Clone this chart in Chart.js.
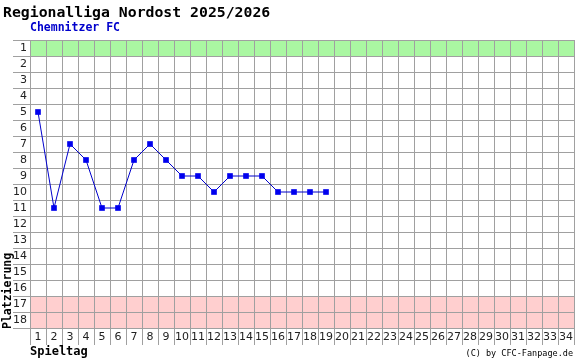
<!DOCTYPE html>
<html><head><meta charset="utf-8">
<script src="https://cdn.jsdelivr.net/npm/chart.js@4/dist/chart.umd.min.js"></script>
<style>html,body{margin:0;padding:0;background:#fff}#wrap{position:relative;width:575px;height:359px}</style>
</head><body><div id="wrap"><canvas id="c" width="575" height="359"></canvas></div>
<script>
const chartTitle = 'Regionalliga Nordost 2025/2026';
const teamName = 'Chemnitzer FC';
const credit = '(C) by CFC-Fanpage.de';
const xTitle = 'Spieltag';
const yTitle = 'Platzierung';
const matchdays = ['1','2','3','4','5','6','7','8','9','10','11','12','13','14','15','16','17','18','19','20','21','22','23','24','25','26','27','28','29','30','31','32','33','34'];
const places = [1,2,3,4,5,6,7,8,9,10,11,12,13,14,15,16,17,18];
const positions = [5,11,7,8,11,11,8,7,8,9,9,10,9,9,9,10,10,10,10];
const promotionPlaces = [1];
const relegationPlaces = [17,18];

const GRID = '#a0a0a0';
const MONO = '"DejaVu Sans Mono", monospace';
const SANS = '"DejaVu Sans", sans-serif';

const bandsPlugin = {
  id: 'bands',
  beforeDraw(chart) {
    const {ctx, chartArea: a, scales: {y}} = chart;
    ctx.save();
    const fillPlace = (p, col) => {
      const y1 = y.getPixelForValue(p - 0.5), y2 = y.getPixelForValue(p + 0.5);
      ctx.fillStyle = col;
      ctx.fillRect(a.left, Math.min(y1, y2), a.right - a.left, Math.abs(y2 - y1));
    };
    promotionPlaces.forEach(p => fillPlace(p, '#aaf7a2'));
    relegationPlaces.forEach(p => fillPlace(p, '#ffcfcf'));
    ctx.restore();
  },
  afterDraw(chart) {
    const {ctx, chartArea: a} = chart;
    ctx.save();
    ctx.textBaseline = 'alphabetic';
    ctx.textAlign = 'left';
    ctx.fillStyle = '#000';
    ctx.font = 'bold 14.8px ' + MONO;
    ctx.fillText(chartTitle, 3, 17);
    ctx.fillStyle = '#0000cc';
    ctx.font = 'bold 11.5px ' + MONO;
    ctx.fillText(teamName, 30, 31);
    ctx.fillStyle = '#000';
    ctx.font = '8.5px ' + MONO;
    ctx.textAlign = 'right';
    ctx.fillText(credit, 573, 356);
    ctx.translate(8, a.bottom + 1);
    ctx.rotate(-Math.PI / 2);
    ctx.textAlign = 'left';
    ctx.textBaseline = 'middle';
    ctx.font = 'bold 11.5px ' + MONO;
    ctx.fillText(yTitle, 0, 0);
    ctx.restore();
  }
};

new Chart(document.getElementById('c'), {
  type: 'line',
  data: {
    labels: matchdays,
    datasets: [{
      data: positions,
      borderColor: '#0000cc',
      backgroundColor: '#0000ee',
      borderWidth: 1,
      pointStyle: 'rect',
      pointRadius: 4,
      pointBorderWidth: 0,
      pointBackgroundColor: '#0000ee',
      tension: 0,
      fill: false
    }]
  },
  options: {
    responsive: false,
    animation: false,
    devicePixelRatio: 1,
    layout: {autoPadding: false, padding: {top: 40, left: 0, right: 1, bottom: 0}},
    plugins: {legend: {display: false}, tooltip: {enabled: false}},
    scales: {
      x: {
        type: 'category',
        offset: true,
        grid: {offset: true, color: GRID, lineWidth: 1, tickLength: 17, tickColor: GRID},
        border: {color: GRID},
        ticks: {autoSkip: false, maxRotation: 0, minRotation: 0, padding: -14, color: '#222', font: {family: SANS, size: 11}},
        title: {display: true, text: xTitle, align: 'start', color: '#000', font: {family: MONO, size: 12, weight: 'bold'}, padding: {top: 0, bottom: 0}},
        afterFit(s) { s.height = 31; s.paddingLeft = 0; s.paddingRight = 0; }
      },
      y: {
        type: 'linear',
        reverse: true,
        min: 0.5,
        max: 18.5,
        afterBuildTicks(s) { s.ticks = places.map(v => ({value: v})); },
        grid: {offset: true, color: GRID, lineWidth: 1, tickLength: 17, tickColor: GRID},
        border: {color: GRID},
        ticks: {padding: -14, color: '#222', font: {family: SANS, size: 11}},
        title: {display: false},
        afterFit(s) { s.width = 30; s.paddingTop = 0; s.paddingBottom = 0; }
      }
    }
  },
  plugins: [bandsPlugin]
});
</script></body></html>
